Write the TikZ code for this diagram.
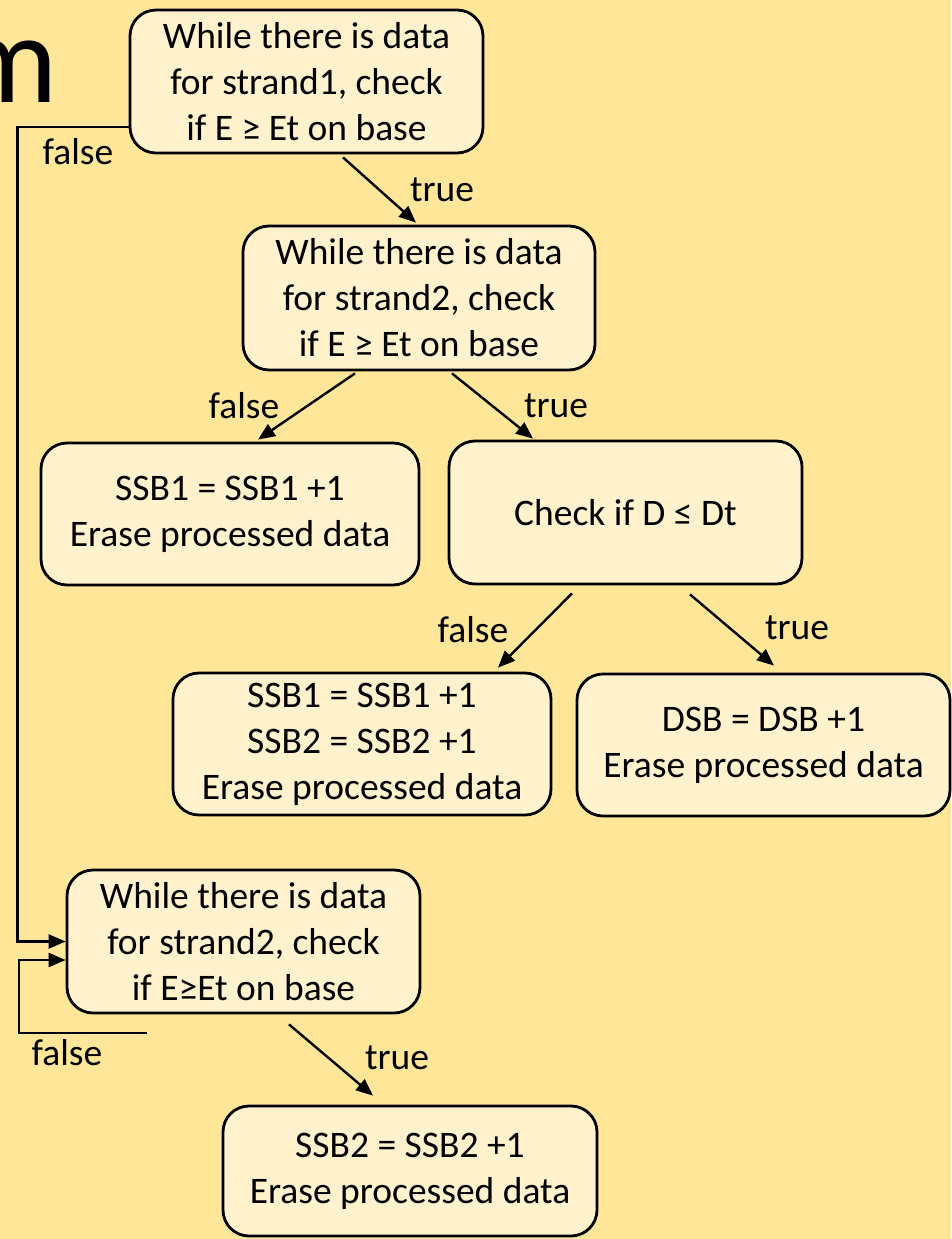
\documentclass[tikz,border=0pt]{standalone}
\usepackage{fontspec}
\setmainfont{Carlito}
\usetikzlibrary{arrows.meta}
\definecolor{bgyellow}{HTML}{FFE699}
\definecolor{boxfill}{HTML}{FFF2CC}
\begin{document}
\begin{tikzpicture}[x=1pt,y=-1pt,
  stepbox/.style={draw=black, line width=2.8pt, fill=boxfill, rounded corners=26pt,
    align=center, inner sep=0pt, font=\fontsize{37.5}{46}\selectfont},
  arr/.style={line width=2.4pt, -{Triangle[length=17pt,width=14pt]}},
  lbl/.style={font=\fontsize{37.5}{46}\selectfont, inner sep=0pt}]
\fill[bgyellow] (0,0) rectangle (951,1239);
\useasboundingbox (0,0) rectangle (951,1239);

\node[anchor=base east, inner sep=0pt, font=\fontsize{127}{130}\selectfont] (title) at (58,102) {m};

\node[stepbox, minimum width=353pt, minimum height=143pt] (A) at (306.5,81.5)
  {While there is data\\for strand1, check\\if E ≥ Et on base};
\node[stepbox, minimum width=352pt, minimum height=144pt] (B) at (419,298)
  {While there is data\\for strand2, check\\if E ≥ Et on base};
\node[stepbox, minimum width=378pt, minimum height=142pt] (C) at (230,514)
  {SSB1 = SSB1 +1\\Erase processed data};
\node[stepbox, minimum width=353pt, minimum height=143pt] (D) at (625.5,512.5)
  {Check if D ≤ Dt};
\node[stepbox, minimum width=378pt, minimum height=142pt] (E) at (362,744)
  {SSB1 = SSB1 +1\\SSB2 = SSB2 +1\\Erase processed data};
\node[stepbox, minimum width=373pt, minimum height=142pt] (F) at (763.5,745)
  {DSB = DSB +1\\Erase processed data};
\node[stepbox, minimum width=353pt, minimum height=143pt] (G) at (243.5,941.5)
  {While there is data\\for strand2, check\\if E≥Et on base};
\node[stepbox, minimum width=374pt, minimum height=130pt] (H) at (410,1171)
  {SSB2 = SSB2 +1\\Erase processed data};

% connectors
\draw[arr] ([shift={(36.5,3)}]A.south) -- ([shift={(-3,-2)}]B.north);
\draw[arr] ([shift={(-64,2)}]B.south) -- ([shift={(28,-2)}]C.north);
\draw[arr] ([shift={(33,2)}]B.south) -- ([shift={(-92.5,-1)}]D.north);
\draw[arr] ([shift={(-53.5,8)}]D.south) -- ([shift={(136,-4)}]E.north);
\draw[arr] ([shift={(64.5,9)}]D.south) -- ([shift={(10.5,-7)}]F.north);
\draw[arr] ([shift={(45.5,10)}]G.south) -- ([shift={(-37,-9)}]H.north);

% false from A to G
\draw[arr] ([shift={(0,45.5)}]A.west) -- ++(-111,0) |- (G.west);
% false loop of G
\coordinate (gl) at (147,1033);
\draw[arr] (gl) -- ++(-128,0) |- ([shift={(0,18.5)}]G.west);

% labels
\node[lbl] (t1) at (442,190) {true};
\node[lbl] (f1) at (244,406) {false};
\node[lbl] (t2) at (556,406) {true};
\node[lbl] (f2) at (473,630) {false};
\node[lbl] (t3) at (797,628) {true};
\node[lbl] (t4) at (397,1058) {true};
\node[lbl] (f0) at (78,152) {false};
\node[lbl] (f3) at (67,1053) {false};
\end{tikzpicture}
\end{document}
